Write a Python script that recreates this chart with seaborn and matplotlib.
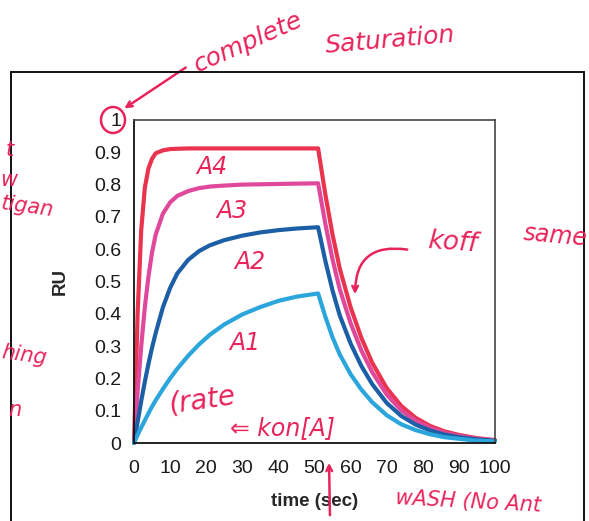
import pandas as pd
import matplotlib.pyplot as plt
from matplotlib.patches import Ellipse, Rectangle
import seaborn as sns

# time points (sec)
time = [0, 1, 2, 3, 4, 5, 6, 8, 10, 12, 15, 18, 21, 25, 30, 35, 40, 45, 51,
        53, 55, 57, 60, 63, 66, 70, 74, 78, 82, 86, 90, 95, 100]

# RU for each analyte concentration (association up to ~51 s, then wash)
a4 = [0, 0.40, 0.66, 0.79, 0.85, 0.88, 0.897, 0.906, 0.910, 0.911, 0.912, 0.912,
      0.912, 0.912, 0.912, 0.912, 0.912, 0.912, 0.912,
      0.77, 0.645, 0.54, 0.42, 0.325, 0.248, 0.17, 0.115, 0.078, 0.053, 0.036,
      0.025, 0.015, 0.009]
a3 = [0, 0.16, 0.30, 0.42, 0.515, 0.59, 0.645, 0.71, 0.745, 0.765, 0.780, 0.789,
      0.794, 0.797, 0.800, 0.801, 0.802, 0.803, 0.804,
      0.679, 0.568, 0.476, 0.371, 0.286, 0.219, 0.150, 0.101, 0.069, 0.047, 0.031,
      0.022, 0.013, 0.008]
a2 = [0, 0.065, 0.13, 0.19, 0.245, 0.295, 0.34, 0.42, 0.48, 0.525, 0.567, 0.594,
      0.612, 0.628, 0.642, 0.652, 0.659, 0.664, 0.668,
      0.564, 0.472, 0.395, 0.308, 0.238, 0.182, 0.124, 0.084, 0.057, 0.039, 0.026,
      0.018, 0.011, 0.007]
a1 = [0, 0.025, 0.048, 0.07, 0.092, 0.113, 0.132, 0.167, 0.200, 0.230, 0.270, 0.305,
      0.335, 0.367, 0.398, 0.421, 0.440, 0.453, 0.463,
      0.391, 0.327, 0.274, 0.213, 0.165, 0.126, 0.086, 0.058, 0.040, 0.027, 0.018,
      0.013, 0.007, 0.005]

series = ["A4", "A3", "A2", "A1"]
colors = ["#e8344e", "#e0489c", "#1d5fa6", "#2ba6dc"]
y_ticks = [0, 0.1, 0.2, 0.3, 0.4, 0.5, 0.6, 0.7, 0.8, 0.9, 1]
y_labels = ["0", "0.1", "0.2", "0.3", "0.4", "0.5", "0.6", "0.7", "0.8", "0.9", "1"]
x_ticks = [0, 10, 20, 30, 40, 50, 60, 70, 80, 90, 100]

# long-form table for seaborn
frames = []
for name, vals in zip(series, [a4, a3, a2, a1]):
    frames.append(pd.DataFrame({"time": time, "RU": vals, "series": name}))
df = pd.concat(frames, ignore_index=True)

sns.set_style("white")
plt.rcParams["font.family"] = ["Liberation Sans", "DejaVu Sans"]

W, H = 589, 521
fig = plt.figure(figsize=(W / 100, H / 100), dpi=100)
ax = fig.add_axes([134 / W, 1 - 443 / H, (495 - 134) / W, (443 - 120) / H])

sns.lineplot(data=df, x="time", y="RU", hue="series", hue_order=series,
             palette=dict(zip(series, colors)), linewidth=3, legend=False,
             estimator=None, sort=False, ax=ax)
for line in ax.lines:
    line.set_clip_on(False)
    line.set_solid_joinstyle("round")

ax.set_xlim(0, 100)
ax.set_ylim(0, 1)
ax.set_xticks(x_ticks)
ax.set_xticks(range(0, 101, 2), minor=True)
ax.set_yticks(y_ticks)
ax.set_yticklabels(y_labels)
ax.tick_params(axis="both", labelsize=14, colors="#1a1a1a")
ax.tick_params(axis="x", which="major", direction="inout", length=7, width=1, pad=9)
ax.tick_params(axis="x", which="minor", direction="inout", length=3, width=0.8)
ax.tick_params(axis="y", direction="out", length=4, width=1, pad=5)
ax.set_xlabel("time (sec)", fontsize=13.5, fontweight="bold", labelpad=11)
ax.set_ylabel("RU", fontsize=13.5, fontweight="bold", labelpad=18)

for side in ["left", "bottom"]:
    ax.spines[side].set_color("#111111")
    ax.spines[side].set_linewidth(1.3)
for side in ["top", "right"]:
    ax.spines[side].set_color("#444444")
    ax.spines[side].set_linewidth(1.2)
    ax.spines[side].set_linestyle((0, (2, 1)))

# outer slide frame
fig.add_artist(Rectangle((11 / W, -0.05), (584 - 11) / W, 1.05 - 72 / H,
                         transform=fig.transFigure, fill=False, ec="#111111", lw=1.4))


# handwritten notes (pixel positions from the top-left of the image)
ink = "#e8245a"


def px(x, y):
    return x / W, 1 - y / H


def note(x, y, s, size=15, rot=0, ha="center"):
    fig.text(*px(x, y), s, color=ink, fontsize=size, rotation=rot, ha=ha, va="center",
             family=["DejaVu Sans"], style="italic")


def arrow(x0, y0, x1, y1, rad=0.0):
    ax.annotate("", xy=px(x1, y1), xytext=px(x0, y0), xycoords="figure fraction",
                textcoords="figure fraction",
                arrowprops=dict(arrowstyle="->", color=ink, lw=1.8,
                                connectionstyle=f"arc3,rad={rad}"))


note(248, 42, "complete", 18, rot=24)
note(390, 40, "Saturation", 18, rot=5)
arrow(188, 66, 122, 110)
fig.add_artist(Ellipse(px(113, 120), 24 / W, 26 / H, transform=fig.transFigure,
                       fill=False, ec=ink, lw=1.8))

note(212, 167, "A4", 17)
note(232, 211, "A3", 17)
note(250, 262, "A2", 17)
note(245, 343, "A1", 17)
note(203, 400, "(rate", 20, rot=8)
note(283, 428, "⇐ kon[A]", 17)

note(452, 243, "koff", 19, rot=-4)
note(555, 236, "same", 17, rot=-5)
arrow(410, 250, 355, 297, rad=0.6)

arrow(330, 518, 329, 460)
note(468, 502, "wASH (No Ant", 15, rot=-3)

note(6, 150, "t", 15, ha="left")
note(0, 180, "w", 15, ha="left")
note(0, 207, "tigan", 15, rot=-8, ha="left")
note(0, 355, "hing", 15, rot=-8, ha="left")
note(8, 410, "n", 15, ha="left")

fig.savefig("out.png", dpi=100, facecolor="white")
